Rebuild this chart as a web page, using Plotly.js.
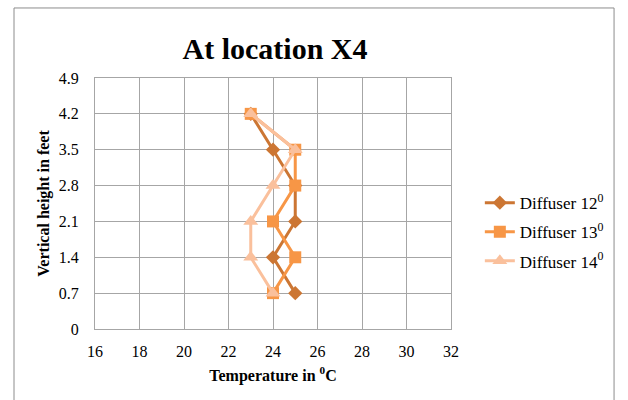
<!DOCTYPE html>
<html>
<head>
<meta charset="utf-8">
<script src="https://cdn.plot.ly/plotly-3.0.1.min.js"></script>
<style>html,body{margin:0;padding:0;background:#fff;}#chart{width:628px;height:400px;}</style>
</head>
<body>
<div id="chart"></div>
<script>
const heights = [0.7, 1.4, 2.1, 2.8, 3.5, 4.2];
const diffuser12 = [25, 24, 25, 25, 24, 23];
const diffuser13 = [24, 25, 24, 25, 25, 23];
const diffuser14 = [24, 23, 23, 24, 25, 23];
const seriesNames = ['Diffuser 12<sup>0</sup>', 'Diffuser 13<sup>0</sup>', 'Diffuser 14<sup>0</sup>'];
const yTicks = [0, 0.7, 1.4, 2.1, 2.8, 3.5, 4.2, 4.9];
const yTickText = ['0', '0.7', '1.4', '2.1', '2.8', '3.5', '4.2', '4.9'];
const xTicks = [16, 18, 20, 22, 24, 26, 28, 30, 32];

const serif = 'Times New Roman';
const traces = [
  {x: diffuser12, y: heights, name: seriesNames[0], legendgroup: 'a', mode: 'lines+markers',
   line: {color: '#CC7633', width: 3}, marker: {symbol: 'diamond', size: 11, color: '#CC7633'}},
  {x: diffuser13, y: heights, name: seriesNames[1], legendgroup: 'b', mode: 'lines+markers',
   line: {color: '#F79646', width: 3}, marker: {symbol: 'square', size: 12, color: '#F79646'}},
  {x: diffuser14, y: heights, name: seriesNames[2], legendgroup: 'c', mode: 'lines+markers',
   line: {color: '#FAC09C', width: 3}, marker: {symbol: 'triangle-up', size: 13, color: '#FAC09C'}}
];

const layout = {
  width: 628, height: 400,
  margin: {l: 95, r: 177, t: 78, b: 71},
  paper_bgcolor: '#fff', plot_bgcolor: '#fff',
  font: {family: serif, color: '#000', size: 15},
  title: {text: '<b>At location X4</b>', font: {family: serif, size: 30, color: '#000'},
          x: 275/628, xanchor: 'center', y: 1 - 48/400, yanchor: 'middle'},
  xaxis: {range: [16, 32], tickvals: xTicks, showgrid: true, gridcolor: '#A6A6A6', gridwidth: 1,
          showline: true, linecolor: '#A6A6A6', mirror: true, zeroline: false,
          ticks: '', ticklabelstandoff: 8, tickfont: {family: serif, size: 16, color: '#000'},
          title: {text: '<b>Temperature in <sup>0</sup>C</b>', font: {family: serif, size: 16, color: '#000'}, standoff: 10}},
  yaxis: {range: [0, 4.9], tickvals: yTicks, ticktext: yTickText, showgrid: true, gridcolor: '#A6A6A6', gridwidth: 1,
          showline: true, linecolor: '#A6A6A6', mirror: true, zeroline: false,
          ticks: '', ticklabelstandoff: 12, tickfont: {family: serif, size: 16, color: '#000'},
          title: {text: '<b>Vertical height in feet</b>', font: {family: serif, size: 16, color: '#000'}, standoff: 5}},
  showlegend: true,
  legend: {x: 1.081, xanchor: 'left', y: 0.386, yanchor: 'middle', font: {size: 17, family: serif, color: '#000'},
           traceorder: 'grouped', tracegroupgap: 4, bgcolor: 'rgba(0,0,0,0)'},
  shapes: [{type: 'rect', xref: 'paper', yref: 'paper', x0: -0.2275, x1: 1.458, y0: -0.35, y1: 1.279,
            line: {color: '#8C8C8C', width: 1}, layer: 'below'}]
};

Plotly.newPlot('chart', traces, layout, {displayModeBar: false, staticPlot: true});
</script>
</body>
</html>
